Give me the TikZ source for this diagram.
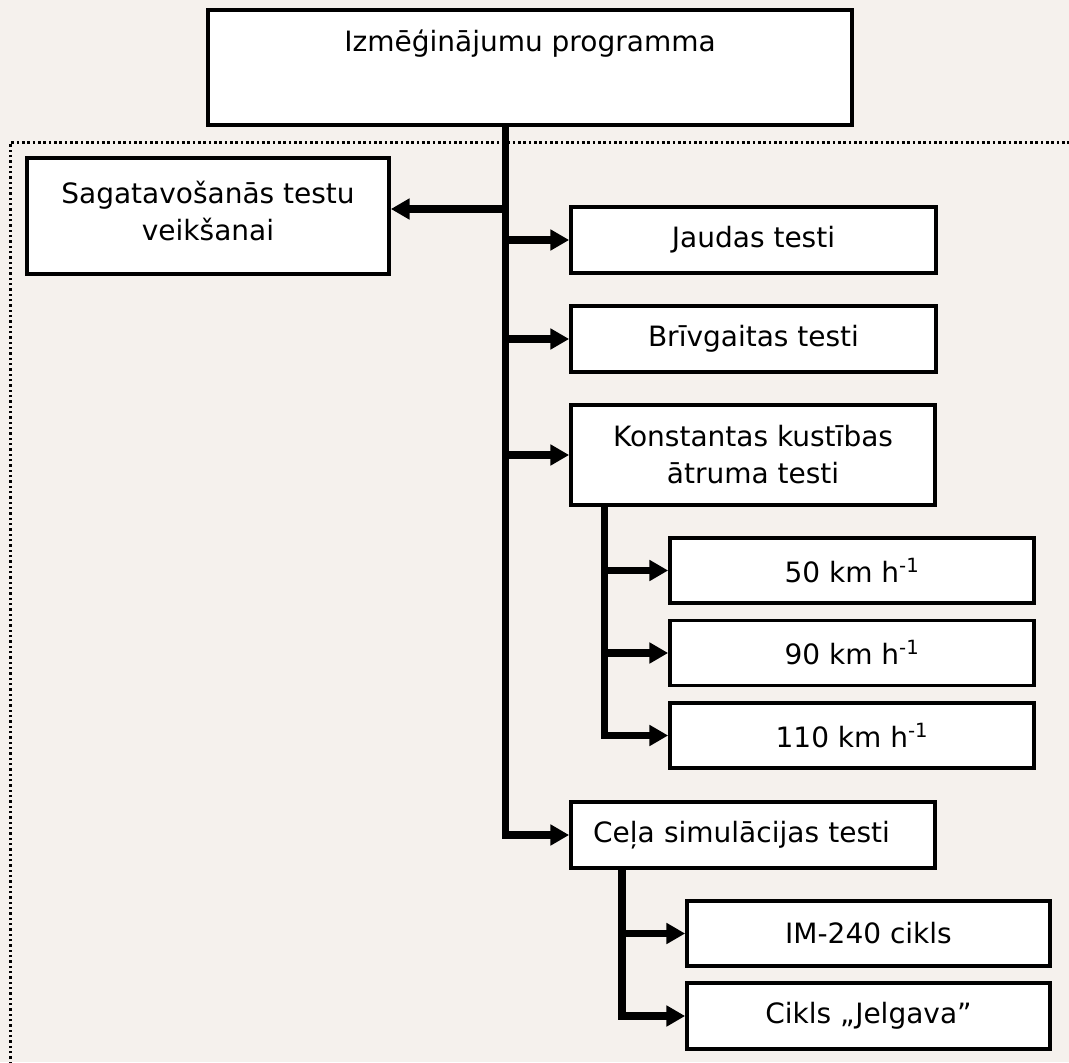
\documentclass[tikz,border=0pt]{standalone}
\usepackage{fontspec}
\setmainfont{DejaVu Sans}
\usetikzlibrary{arrows.meta}
\definecolor{bgbeige}{RGB}{245,241,237}
\begin{document}
\begin{tikzpicture}[x=0.75pt,y=-0.75pt,
  box/.style={draw=black, line width=2.8pt, fill=white, inner sep=0pt,
    font=\fontsize{21pt}{27.75pt}\selectfont, align=center},
  conn/.style={line width=5.4pt, -{Triangle[length=14pt,width=15pt]}},
  frame/.style={line width=2pt, dash pattern=on 1.8pt off 2.2pt, black}]
\useasboundingbox (0,0) rectangle (1069,1062);
\fill[bgbeige] (0,0) rectangle (1069,1062);
\begin{scope}
  \clip (0,0) rectangle (1069,1062);
  \draw[frame] (10.3,1080) -- (10.3,142.5) -- (1090,142.5);
\end{scope}

% boxes
\node[box, minimum width=483pt, text height=31.5pt, text depth=54.75pt, anchor=base]
  (top) at (530,52) {Izmēģinājumu programma};
\node[box, minimum width=271.5pt, minimum height=87pt]
  (sag) at (208,216) {Sagatavošanās testu\\veikšanai\rule[-8pt]{0pt}{8pt}};
\node[box, minimum width=273.75pt, minimum height=49.5pt] (jaud) at (753.5,240) {Jaudas testi};
\node[box, minimum width=273.75pt, minimum height=49.5pt] (briv) at (753.5,339) {Brīvgaitas testi};
\node[box, minimum width=273pt, minimum height=75pt] (konst) at (753,455) {Konstantas kustības\\ātruma testi};
\node[box, minimum width=273pt, minimum height=48.75pt] (k50) at (852,570.5) {50 km h\textsuperscript{-1}};
\node[box, minimum width=273pt, minimum height=48.75pt] (k90) at (852,653) {90 km h\textsuperscript{-1}};
\node[box, minimum width=273pt, minimum height=48.75pt] (k110) at (852,735.5) {110 km h\textsuperscript{-1}};
\node[box, minimum width=273pt, minimum height=49.5pt, inner xsep=16.5pt, text width=240pt, align=left]
  (cela) at (753,835) {Ceļa simulācijas testi};
\node[box, minimum width=272.25pt, minimum height=48.75pt] (im) at (868.5,933.5) {IM-240 cikls};
\node[box, minimum width=272.25pt, minimum height=49.5pt] (jelg) at (868.5,1016) {Cikls „Jelgava”};

% trunk positions
\coordinate (T) at (505.5,0);
\coordinate (S1) at (604.5,0);
\coordinate (S2) at (622,0);
\coordinate (sagy) at (0,209);

% main trunk
\draw[conn] (top.south -| T) |- (cela.west);
\draw[conn] (T |- sagy) -- (sag.east |- sagy);
\draw[conn] (T |- jaud.west) -- (jaud.west);
\draw[conn] (T |- briv.west) -- (briv.west);
\draw[conn] (T |- konst.west) -- (konst.west);
% speed tests
\draw[conn] (konst.south -| S1) |- (k110.west);
\draw[conn] (S1 |- k50.west) -- (k50.west);
\draw[conn] (S1 |- k90.west) -- (k90.west);
% road simulation
\draw[conn] (cela.south -| S2) |- (jelg.west);
\draw[conn] (S2 |- im.west) -- (im.west);
\end{tikzpicture}
\end{document}
